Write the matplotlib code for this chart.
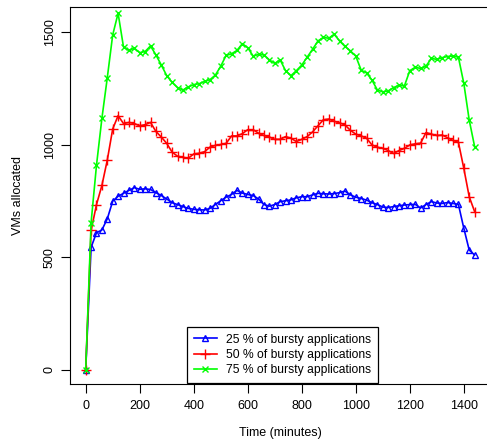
import matplotlib
matplotlib.use("Agg")
import matplotlib.pyplot as plt
import numpy as np

plt.rcParams['font.family'] = ['Liberation Sans', 'DejaVu Sans']

# time axis (minutes), sampled every 20 minutes
time_min = np.arange(0, 1441, 20)

bursty_25 = [0, 545, 610, 622, 672, 750, 772, 785, 798, 810,
             803, 805, 802, 788, 775, 760, 743, 735, 726, 718,
             714, 712, 711, 718, 735, 752, 768, 780, 798, 786,
             780, 775, 760, 735, 728, 735, 748, 752, 756, 765,
             770, 770, 778, 785, 783, 782, 784, 788, 795, 778,
             768, 762, 755, 743, 735, 724, 722, 726, 730, 733,
             735, 736, 720, 735, 748, 742, 740, 744, 740, 736,
             630, 533, 511]

bursty_50 = [0, 620, 735, 820, 933, 1071, 1130, 1095, 1100, 1095,
             1085, 1090, 1100, 1060, 1035, 1007, 968, 950, 945, 941,
             960, 963, 970, 990, 998, 1002, 1007, 1040, 1040, 1050,
             1068, 1068, 1052, 1042, 1035, 1025, 1025, 1037, 1030, 1015,
             1025, 1037, 1058, 1085, 1112, 1115, 1105, 1098, 1089, 1065,
             1048, 1040, 1030, 1000, 990, 985, 975, 962, 975, 985,
             1000, 1005, 1008, 1055, 1048, 1042, 1044, 1032, 1020, 1012,
             896, 770, 704]

bursty_75 = [0, 655, 910, 1118, 1299, 1489, 1585, 1435, 1420, 1430,
             1410, 1415, 1440, 1400, 1355, 1308, 1278, 1255, 1244, 1258,
             1268, 1272, 1282, 1290, 1310, 1350, 1398, 1405, 1420, 1450,
             1432, 1395, 1402, 1400, 1378, 1362, 1378, 1330, 1308, 1330,
             1355, 1390, 1425, 1462, 1478, 1474, 1492, 1462, 1438, 1418,
             1395, 1332, 1320, 1288, 1244, 1236, 1240, 1255, 1265, 1262,
             1330, 1345, 1340, 1350, 1385, 1380, 1388, 1393, 1395, 1390,
             1274, 1111, 993]

labels = ["25 % of bursty applications",
          "50 % of bursty applications",
          "75 % of bursty applications"]

W, H = 487, 441
fig = plt.figure(figsize=(W / 100, H / 100), dpi=100)
left, right, top, bottom = 70.3, 490.0, 7.0, 383.7
ax = fig.add_axes([left / W, 1 - bottom / H, (right - left) / W, (bottom - top) / H])

ax.plot(time_min, bursty_25, color='blue', lw=1.2, marker='^', ms=4.5,
        mfc='none', mec='blue', mew=1.0, label=labels[0])
ax.plot(time_min, bursty_50, color='red', lw=1.2, marker='+', ms=6.5,
        mew=1.0, label=labels[1])
ax.plot(time_min, bursty_75, color='#00ff00', lw=1.2, marker='x', ms=4.5,
        mew=1.0, label=labels[2])

ax.set_xlim(-57, 1497)
ax.set_ylim(-61, 1613)
ax.set_xticks([0, 200, 400, 600, 800, 1000, 1200, 1400])
ax.set_yticks([0, 500, 1000, 1500])

for s in ax.spines.values():
    s.set_linewidth(0.8)
ax.tick_params(direction='out', length=6.5, width=0.8, pad=5, labelsize=9)
ax.tick_params(axis='y', pad=4)
for lab in ax.get_yticklabels():
    lab.set_rotation(90)
    lab.set_va('center')

fig.text(18 / W, 1 - 195 / H, "VMs allocated", rotation=90, ha='center', va='center', fontsize=9)
fig.text(280 / W, 1 - 433 / H, "Time (minutes)", ha='center', va='center', fontsize=9)

leg = ax.legend(loc='lower left', bbox_to_anchor=(0.278, 0.002), borderaxespad=0,
                fontsize=8.7, frameon=True, fancybox=False, edgecolor='black',
                framealpha=1, handlelength=1.9, labelspacing=0.28, borderpad=0.55,
                handletextpad=0.75)
leg.get_frame().set_linewidth(0.9)

fig.savefig("out.png", dpi=100)
